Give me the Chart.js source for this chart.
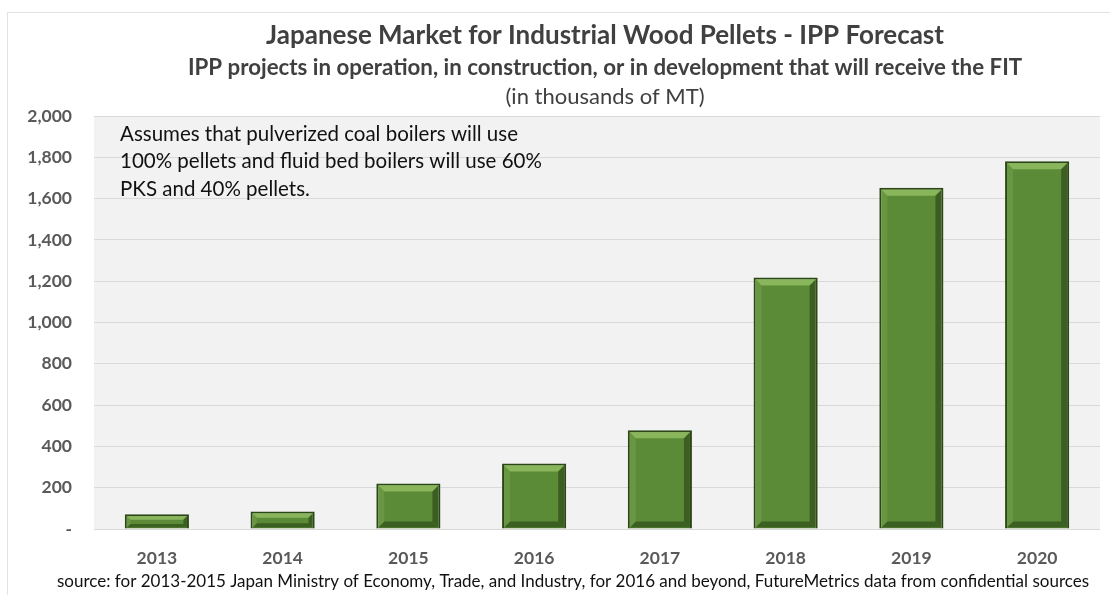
<!DOCTYPE html>
<html>
<head>
<meta charset="utf-8">
<script src="https://cdn.jsdelivr.net/npm/chart.js@4"></script>
<style>
  html, body { margin: 0; padding: 0; background: #fff; }
  #wrap { width: 1110px; height: 595px; position: relative; }
</style>
</head>
<body>
<div id="wrap"><canvas id="myChart"></canvas></div>
<script>
// data (thousands of MT)
const years = ["2013", "2014", "2015", "2016", "2017", "2018", "2019", "2020"];
const pellets = [72, 85, 220, 317, 478, 1218, 1653, 1781];
const yTicks = [0, 200, 400, 600, 800, 1000, 1200, 1400, 1600, 1800, 2000];

const titleLines = [
    "Japanese Market for Industrial Wood Pellets - IPP Forecast",
    "IPP projects in operation, in construction, or in development that will receive the FIT",
    "(in thousands of MT)"
];
const noteLines = [
    "Assumes that pulverized coal boilers will use",
    "100% pellets and fluid bed boilers will use 60%",
    "PKS and 40% pellets."
];
const sourceText = "source: for 2013-2015 Japan Ministry of Economy, Trade, and Industry, for 2016 and beyond, FutureMetrics data from confidential sources";

const FONT = "Lato, 'Open Sans', sans-serif";

// frame, grey plot background, titles and notes
const decor = {
    id: "decor",
    beforeDraw(chart) {
        const { ctx, chartArea: a } = chart;
        ctx.save();
        ctx.fillStyle = "#ffffff";
        ctx.fillRect(0, 0, chart.width, chart.height);
        ctx.strokeStyle = "#e3e3e3";
        ctx.lineWidth = 1;
        ctx.strokeRect(7.5, 12.5, chart.width, chart.height);
        ctx.fillStyle = "#f2f2f2";
        ctx.fillRect(a.left, a.top, a.right - a.left, a.bottom - a.top);
        ctx.restore();
    },
    afterDraw(chart) {
        const { ctx, chartArea: a } = chart;
        const cx = 605;
        ctx.save();
        ctx.textAlign = "center";
        ctx.textBaseline = "middle";
        ctx.fillStyle = "#404040";
        ctx.font = "bold 26px " + FONT;
        ctx.fillText(titleLines[0], cx, 36);
        ctx.font = "bold 22.3px " + FONT;
        ctx.fillText(titleLines[1], cx, 68);
        ctx.font = "22px " + FONT;
        ctx.fillText(titleLines[2], cx, 97);

        ctx.fillStyle = "#111111";
        ctx.font = "17px " + FONT;
        ctx.fillText(sourceText, 573, 582);

        ctx.textAlign = "left";
        ctx.font = "20.5px " + FONT;
        noteLines.forEach((t, i) => ctx.fillText(t, a.left + 26, 134 + i * 27.5));
        ctx.restore();
    }
};

// bevel look on each bar, using the bar elements the library laid out
const bevel = {
    id: "bevel",
    afterDatasetsDraw(chart) {
        const { ctx } = chart;
        chart.getDatasetMeta(0).data.forEach((bar) => {
            const { x, y, base, width } = bar.getProps(["x", "y", "base", "width"], true);
            const l = x - width / 2, r = x + width / 2;
            const h = base - y;
            const b = Math.min(6, h / 4);
            ctx.save();
            // top highlight
            ctx.fillStyle = "rgba(150, 192, 100, 0.8)";
            ctx.beginPath();
            ctx.moveTo(l + 2, y + 2);
            ctx.lineTo(r - 2, y + 2);
            ctx.lineTo(r - 2 - b, y + 2 + b);
            ctx.lineTo(l + 2 + b, y + 2 + b);
            ctx.closePath();
            ctx.fill();
            // right shade
            ctx.fillStyle = "rgba(30, 50, 15, 0.5)";
            ctx.beginPath();
            ctx.moveTo(r - 2, y + 2);
            ctx.lineTo(r - 2, base - 1);
            ctx.lineTo(r - 2 - b, base - 1 - b);
            ctx.lineTo(r - 2 - b, y + 2 + b);
            ctx.closePath();
            ctx.fill();
            // bottom shade
            ctx.fillStyle = "rgba(35, 60, 18, 0.55)";
            ctx.beginPath();
            ctx.moveTo(l + 2, base - 1);
            ctx.lineTo(r - 2, base - 1);
            ctx.lineTo(r - 2 - b, base - 1 - b);
            ctx.lineTo(l + 2 + b, base - 1 - b);
            ctx.closePath();
            ctx.fill();
            // left light edge
            ctx.fillStyle = "rgba(120, 165, 80, 0.45)";
            ctx.beginPath();
            ctx.moveTo(l + 2, y + 2);
            ctx.lineTo(l + 2 + b, y + 2 + b);
            ctx.lineTo(l + 2 + b, base - 1 - b);
            ctx.lineTo(l + 2, base - 1);
            ctx.closePath();
            ctx.fill();
            ctx.restore();
        });
    }
};

const ctx = document.getElementById("myChart");

new Chart(ctx, {
    type: "bar",
    data: {
        labels: years,
        datasets: [
            {
                label: "Pellets",
                data: pellets,
                backgroundColor: "#5b8b37",
                borderColor: "#2c4716",
                borderWidth: 2,
                categoryPercentage: 1,
                barPercentage: 0.51,
            },
        ],
    },
    options: {
        responsive: true,
        maintainAspectRatio: false,
        animation: false,
        layout: { padding: { top: 116, right: 10, left: 0, bottom: 0 } },
        scales: {
            x: {
                grid: { display: false },
                border: { display: false },
                ticks: {
                    color: "#595959",
                    padding: 11,
                    font: { family: FONT, size: 17.5, weight: "bold" },
                },
                afterFit: (scale) => { scale.height = 66; },
            },
            y: {
                min: 0,
                max: 2000,
                afterBuildTicks: (scale) => { scale.ticks = yTicks.map((v) => ({ value: v })); },
                afterFit: (scale) => { scale.width = 94; },
                border: { display: false },
                grid: { color: "#d9d9d9", lineWidth: 1, drawTicks: false },
                ticks: {
                    color: "#595959",
                    padding: 22,
                    font: { family: FONT, size: 17.5, weight: "bold" },
                    callback: (v) => (v === 0 ? "-" : v.toLocaleString("en-US")),
                },
            },
        },
        plugins: {
            legend: { display: false },
            tooltip: { enabled: false },
        },
    },
    plugins: [decor, bevel],
});
</script>
</body>
</html>
